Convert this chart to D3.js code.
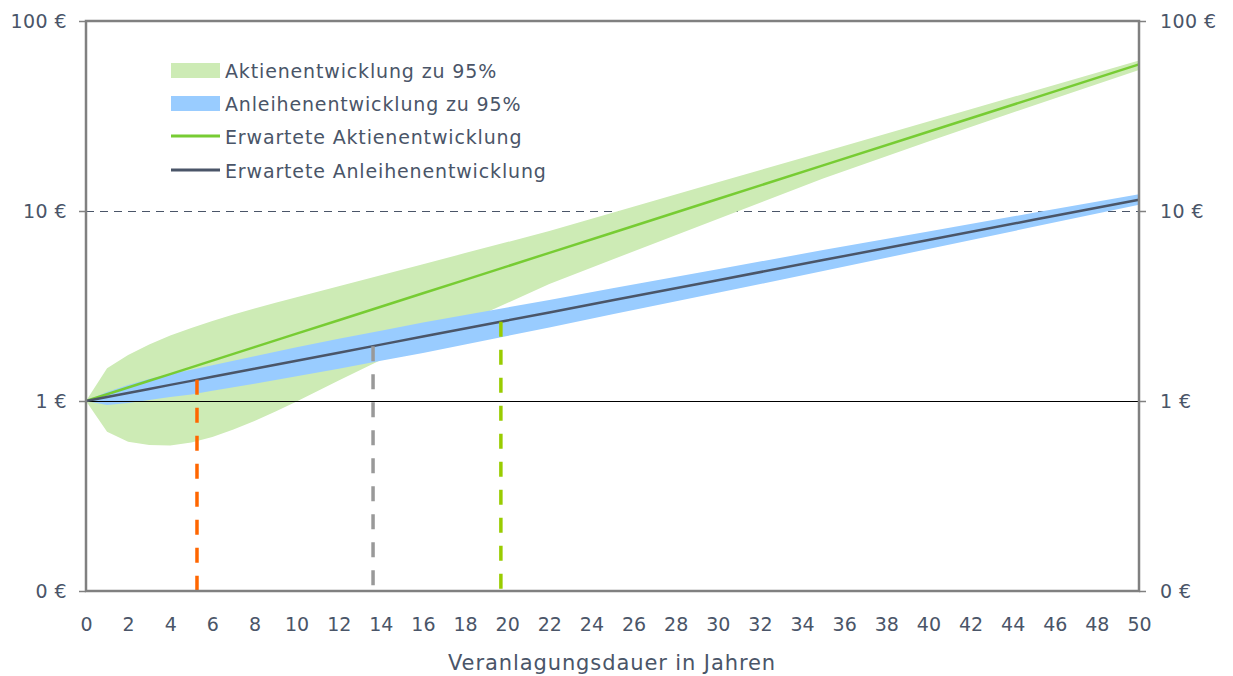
<!DOCTYPE html>
<html>
<head>
<meta charset="utf-8">
<script src="https://cdn.jsdelivr.net/npm/d3@7"></script>
<style>
  html, body { margin: 0; padding: 0; background: #fff; }
  svg { display: block; }
  text { font-family: "DejaVu Sans", sans-serif; fill: #4a5568; }
</style>
</head>
<body>
<svg id="chart" width="1233" height="676"></svg>
<script>
// Investment horizon (years)
const years = [0,1,2,3,4,5,6,7,8,9,10,12,14,16,18,20,22,25,30,35,40,45,50];

// Expected value of 1 € invested
const stockExpected = [1,1.085,1.1772,1.2773,1.3859,1.5037,1.6315,1.7701,1.9206,2.0839,2.2610,2.6617,3.1334,3.6887,4.3424,5.1120,6.0180,7.6868,11.558,17.380,26.133,39.296,59.085];
const bondExpected  = [1,1.05,1.1025,1.1576,1.2155,1.2763,1.3401,1.4071,1.4775,1.5513,1.6289,1.7959,1.9799,2.1829,2.4066,2.6533,2.9253,3.3864,4.3219,5.5160,7.0400,8.9850,11.4674];

// 95 % ranges
const stockUpper = [1,1.486,1.746,1.983,2.2115,2.4228,2.6367,2.853,3.0682,3.2864,3.514,4.020,4.593,5.248,6.003,6.860,7.849,9.796,14.16,20.47,29.59,42.81,61.87];
const stockLower = [1,0.6896,0.6105,0.5867,0.5832,0.6048,0.6465,0.7079,0.7847,0.8805,0.994,1.2818,1.6434,2.069,2.605,3.2785,4.1276,5.556,9.077,14.83,23.21,35.92,55.23];
const bondUpper  = [1,1.1155,1.2147,1.3067,1.3888,1.4583,1.5406,1.6273,1.7192,1.8161,1.9185,2.1281,2.3462,2.5867,2.8345,3.1062,3.4039,3.9164,4.9382,6.2265,7.8038,9.7802,12.2575];
const bondLower  = [1,0.9530,0.9767,1.0131,1.0510,1.0836,1.1309,1.1803,1.2319,1.2903,1.3499,1.4792,1.6308,1.7872,1.9822,2.1988,2.4390,2.8577,3.7142,4.8276,6.3127,8.2545,10.7939];

// Marked horizons (year, value on the expected bond path)
const markerYears  = [5.27, 13.63, 19.7];
const markerValues = [1.2933, 1.9445, 2.6149];
const markerColors = ["#ff6600", "#999999", "#99cc00"];

// Axis ticks
const xTicks = d3.range(0, 51, 2);
const yTicks = [0.1, 1, 10, 100];
const yTickLabels = ["0 €", "1 €", "10 €", "100 €"];

const legendLabels = [
  "Aktienentwicklung zu 95%",
  "Anleihenentwicklung zu 95%",
  "Erwartete Aktienentwicklung",
  "Erwartete Anleihenentwicklung"
];

const colors = {
  stockBand: "#cdebb5",
  bondBand: "#99ccff",
  stockLine: "#77cc33",
  bondLine: "#4a5568",
  frame: "#808080",
  text: "#4a5568"
};

const svg = d3.select("#chart");
const L = 86, R = 1139, T = 21, B = 591;

const x = d3.scaleLinear().domain([0, 50]).range([L, R]);
const y = d3.scaleLog().domain([0.1, 100]).range([B, T]);

const rows = years.map((t, i) => ({
  t,
  sE: stockExpected[i], bE: bondExpected[i],
  sU: stockUpper[i], sL: stockLower[i],
  bU: bondUpper[i], bL: bondLower[i]
}));

// 10 € gridline (dashed)
svg.append("line")
  .attr("x1", L).attr("x2", R)
  .attr("y1", y(10) + 0.5).attr("y2", y(10) + 0.5)
  .attr("stroke", "#4a5568").attr("stroke-width", 1)
  .attr("stroke-dasharray", "8,6");

// bands
svg.append("path").datum(rows)
  .attr("fill", colors.stockBand)
  .attr("d", d3.area().x(d => x(d.t)).y0(d => y(d.sL)).y1(d => y(d.sU)));
svg.append("path").datum(rows)
  .attr("fill", colors.bondBand)
  .attr("d", d3.area().x(d => x(d.t)).y0(d => y(d.bL)).y1(d => y(d.bU)));

// 1 € baseline
svg.append("line")
  .attr("x1", L).attr("x2", R)
  .attr("y1", y(1) + 0.5).attr("y2", y(1) + 0.5)
  .attr("stroke", "#000").attr("stroke-width", 1);

// expected paths
svg.append("path").datum(rows)
  .attr("fill", "none").attr("stroke", colors.stockLine).attr("stroke-width", 2.5)
  .attr("d", d3.line().x(d => x(d.t)).y(d => y(d.sE)));
svg.append("path").datum(rows)
  .attr("fill", "none").attr("stroke", colors.bondLine).attr("stroke-width", 2.5)
  .attr("d", d3.line().x(d => x(d.t)).y(d => y(d.bE)));

// horizon markers
markerYears.forEach((yr, i) => {
  svg.append("line")
    .attr("x1", x(yr)).attr("x2", x(yr))
    .attr("y1", y(markerValues[i])).attr("y2", B)
    .attr("stroke", markerColors[i]).attr("stroke-width", 3.5)
    .attr("stroke-dasharray", "15,13");
});

// frame
svg.append("rect")
  .attr("x", L).attr("y", T).attr("width", R - L).attr("height", B - T)
  .attr("fill", "none").attr("stroke", colors.frame).attr("stroke-width", 2.5);

// y axes (left and right)
const yAxisL = d3.axisLeft(y).tickValues(yTicks).tickFormat((d, i) => yTickLabels[i]).tickSize(7).tickPadding(12);
const yAxisR = d3.axisRight(y).tickValues(yTicks).tickFormat((d, i) => yTickLabels[i]).tickSize(7).tickPadding(14);

function styleAxis(g) {
  g.select(".domain").remove();
  g.selectAll(".tick line").attr("stroke", colors.frame).attr("stroke-width", 1.5);
  g.selectAll(".tick text")
    .style("font-family", '"DejaVu Sans", sans-serif')
    .style("font-size", "19px")
    .style("letter-spacing", "0.4px")
    .attr("fill", colors.text);
}
svg.append("g").attr("transform", `translate(${L},0)`).call(yAxisL).call(styleAxis);
svg.append("g").attr("transform", `translate(${R},0)`).call(yAxisR).call(styleAxis);

// x axis
const xAxis = d3.axisBottom(x).tickValues(xTicks).tickSize(0).tickPadding(27);
svg.append("g").attr("transform", `translate(0,${B})`).call(xAxis).call(g => {
  g.select(".domain").remove();
  g.selectAll(".tick text")
    .style("font-family", '"DejaVu Sans", sans-serif')
    .style("font-size", "19px")
    .attr("fill", colors.text);
});

svg.append("text")
  .attr("x", 612).attr("y", 670)
  .attr("text-anchor", "middle")
  .style("font-size", "21px")
  .style("letter-spacing", "0.9px")
  .text("Veranlagungsdauer in Jahren");

// legend
const legend = svg.append("g");
const legendY = [71, 104, 137, 171];
legendLabels.forEach((lab, i) => {
  const cy = legendY[i];
  if (i < 2) {
    legend.append("rect")
      .attr("x", 171).attr("y", cy - 8).attr("width", 49).attr("height", 15)
      .attr("fill", i === 0 ? colors.stockBand : colors.bondBand);
  } else {
    legend.append("line")
      .attr("x1", 171).attr("x2", 220).attr("y1", cy - 1).attr("y2", cy - 1)
      .attr("stroke", i === 2 ? colors.stockLine : colors.bondLine)
      .attr("stroke-width", 3);
  }
  legend.append("text")
    .attr("x", 225).attr("y", cy).attr("dy", "0.35em")
    .style("font-size", "19px")
    .style("letter-spacing", "0.85px")
    .text(lab);
});
</script>
</body>
</html>
